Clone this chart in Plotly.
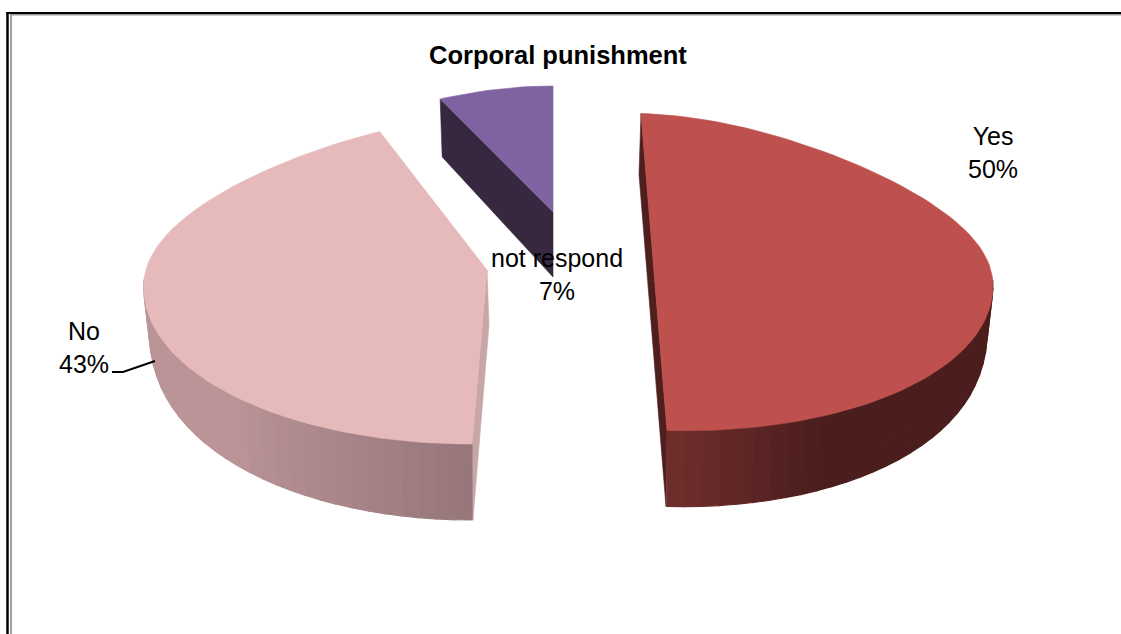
import math
import plotly.graph_objects as go

categories = ["Yes", "No", "not respond"]
values = [50, 43, 7]
title_text = "Corporal punishment"

top_colors = ["#BE504D", "#E6BABA", "#7F63A1"]
side_colors = ["#4F1F1E", "#C9A6A6", "#38283F"]
wall_light = [(112, 46, 44), (186, 148, 150), None]
wall_dark = [(75, 30, 29), (150, 118, 122), None]

# projection of each exploded slice onto the page: ellipse centre, radii, wedge tip, shear, tilt
geometry = [
    dict(cx=654, cy=272, a=338, b=158.5, tip=(654, 272), shear=0.082, tilt=0.024, far=(-2, 61), near=(-1, 76)),
    dict(cx=487, cy=280, a=343, b=164, tip=(487, 270), shear=-0.092, tilt=0.0, far=(2, 55), near=(1, 76)),
    dict(cx=553, cy=222, a=320, b=136, tip=(553, 212), shear=0.0, tilt=0.0, far=(2, 58), near=(0, 65)),
]
PERSPECTIVE = 0.21
DEPTH = 76


def rim(g, deg):
    s, c = math.sin(math.radians(deg)), math.cos(math.radians(deg))
    dy = -g["b"] * c + g["tilt"] * g["a"] * s
    dx = g["a"] * s * (1 - PERSPECTIVE * max(c, 0) ** 2) + g["shear"] * dy
    return g["cx"] + dx, g["cy"] + dy


def rim_low(g, deg):
    x, y = rim(g, deg)
    c = math.cos(math.radians(deg))
    return g["cx"] + 0.985 * (x - g["cx"]), y + DEPTH * abs(c) ** 0.25


def poly(fig, pts, color, width=0.6):
    xs = [p[0] for p in pts] + [pts[0][0]]
    ys = [p[1] for p in pts] + [pts[0][1]]
    fig.add_trace(go.Scatter(x=xs, y=ys, mode="lines", fill="toself", fillcolor=color,
                             line=dict(color=color, width=width), hoverinfo="skip", showlegend=False))


fig = go.Figure()
start = 0.0
total = sum(values)
for i, v in enumerate(values):
    g = geometry[i]
    end = start + 360.0 * v / total
    off = lambda p, d: (p[0] + d[0], p[1] + d[1])
    # inner cut face
    if i == 0:
        a, b = rim(g, start), rim(g, end)
        face = [a, off(a, g["far"]), off(b, g["near"]), b]
    elif i == 1:
        t, b = g["tip"], rim(g, start)
        face = [t, off(t, g["far"]), off(b, g["near"]), b]
    else:
        a, t = rim(g, start), g["tip"]
        face = [a, off(a, g["far"]), off(t, g["near"]), t]
    poly(fig, face, side_colors[i])

    # outer curved wall, shaded in bands (front half only)
    if wall_light[i] is not None:
        lo, hi = max(start, 90), min(end, 270)
        n = 30
        for k in range(n):
            d0 = lo + (hi - lo) * k / n
            d1 = lo + (hi - lo) * (k + 1) / n
            u = (k + 0.5) / n
            f = max(0.0, (u - 0.7) / 0.3) if i == 0 else min(1.0, u / 0.5)
            rgb = tuple(round(wall_dark[i][j] + (wall_light[i][j] - wall_dark[i][j]) * f) for j in range(3))
            poly(fig, [rim(g, d0), rim(g, d1), rim_low(g, d1), rim_low(g, d0)], "rgb(%d,%d,%d)" % rgb, 1.2)

    # top face
    steps = max(12, int(v * 2))
    arc = [rim(g, start + (end - start) * k / steps) for k in range(steps + 1)]
    poly(fig, [g["tip"]] + arc, top_colors[i])
    fig.data[-1].update(hovertemplate="%s: %d%%<extra></extra>" % (categories[i], v), hoverinfo=None, hoveron="fills",
                        name=categories[i])
    start = end

label_pos = {"Yes": (993, 152), "No": (84, 347.5), "not respond": (557, 274)}
annotations = [dict(x=label_pos[c][0], y=label_pos[c][1], xref="x", yref="y", text="%s<br>%d%%" % (c, v),
                    showarrow=False, align="center", xanchor="center", yanchor="middle",
                    font=dict(family="Liberation Sans, Arial", size=25, color="#000000"))
               for c, v in zip(categories, values)]
annotations.append(dict(x=558, y=55, xref="x", yref="y", text="<b>%s</b>" % title_text, showarrow=False,
                        xanchor="center", yanchor="middle",
                        font=dict(family="Liberation Sans, Arial", size=25.5, color="#000000")))

shapes = [
    dict(type="path", path="M 112 372 L 123 372 L 155 361", xref="x", yref="y", line=dict(color="#000", width=2)),
    dict(type="line", x0=7.5, x1=7.5, y0=12, y1=634, xref="x", yref="y", line=dict(color="#000", width=2.5)),
    dict(type="line", x0=6, x1=1121, y0=13, y1=13, xref="x", yref="y", line=dict(color="#000", width=2)),
    dict(type="line", x0=11, x1=11, y0=14, y1=634, xref="x", yref="y", line=dict(color="#A0A0A0", width=2)),
    dict(type="line", x0=10, x1=1121, y0=14.8, y1=14.8, xref="x", yref="y", line=dict(color="#999999", width=1.6)),
]

fig.update_layout(
    width=1121, height=634, autosize=False,
    margin=dict(l=0, r=0, t=0, b=0), paper_bgcolor="#FFFFFF", plot_bgcolor="#FFFFFF",
    xaxis=dict(range=[0, 1121], visible=False, fixedrange=True),
    yaxis=dict(range=[634, 0], visible=False, fixedrange=True),
    showlegend=False, annotations=annotations, shapes=shapes,
)
fig.write_html("out.html", config=dict(displayModeBar=False),
               post_script="document.body.style.margin='0';document.body.style.overflow='hidden';")
